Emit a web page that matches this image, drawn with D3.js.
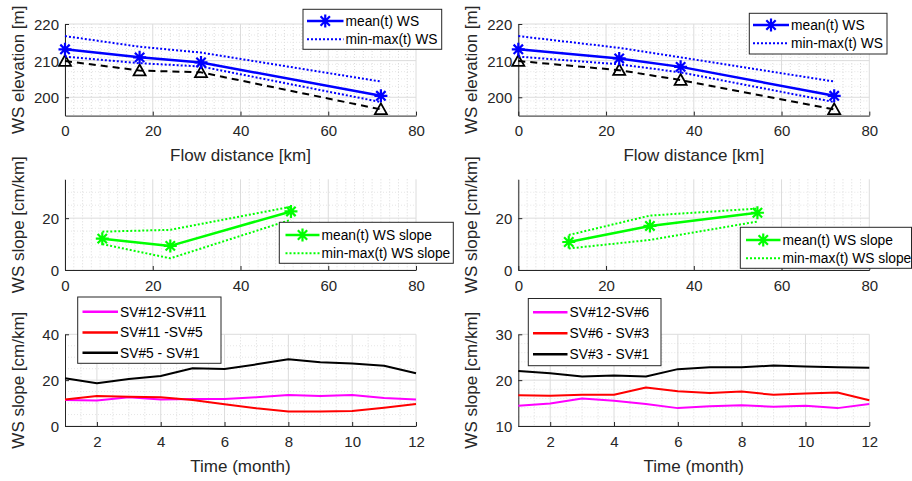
<!DOCTYPE html>
<html><head><meta charset="utf-8">
<script src="https://cdn.jsdelivr.net/npm/d3@7"></script>
<style>
body{margin:0;background:#fff;}
svg{font-family:"Liberation Sans",Arial,Helvetica,sans-serif;}
</style></head>
<body><svg id="c" width="912" height="481"></svg>
<script>
// ---- data ----
const distLeft = [0, 17, 31, 72];
const wsMeanLeft = [213.1, 210.9, 209.5, 200.4];
const wsMaxLeft = [216.7, 213.8, 212.2, 204.3];
const wsMinLeft = [211.1, 209.3, 208.4, 198.7];
const bedLeft = [209.9, 207.3, 206.8, 196.7];

const distRight = [0, 23, 37, 72];
const wsMeanRight = [213.1, 210.6, 208.3, 200.4];
const wsMaxRight = [216.7, 213.5, 210.9, 204.3];
const wsMinRight = [211.1, 209.0, 206.8, 198.7];
const bedRight = [209.9, 207.4, 204.7, 196.7];

const slopePosLeft = [8.5, 24, 51.5];
const slopeMeanLeft = [12.1, 9.3, 22.6];
const slopeMaxLeft = [14.8, 15.5, 24.4];
const slopeMinLeft = [10.0, 4.5, 19.4];

const slopePosRight = [11.5, 30, 54.5];
const slopeMeanRight = [10.8, 17.0, 22.1];
const slopeMaxRight = [13.5, 21.0, 23.7];
const slopeMinRight = [8.3, 11.6, 18.7];

const months = [1,2,3,4,5,6,7,8,9,10,11,12];
const sv12_11 = [11.3, 11.1, 12.5, 11.6, 11.8, 11.8, 12.5, 13.5, 13.1, 13.5, 12.2, 11.6];
const sv11_5  = [11.6, 13.1, 12.8, 12.5, 11.3, 9.5, 7.7, 6.3, 6.3, 6.5, 8.0, 9.6];
const sv5_1   = [20.8, 18.6, 20.5, 21.8, 25.2, 24.9, 26.9, 29.1, 27.8, 27.3, 26.3, 23.0];
const sv12_6  = [14.4, 14.9, 16.0, 15.5, 14.8, 13.9, 14.3, 14.5, 14.2, 14.4, 13.9, 14.8];
const sv6_3   = [16.7, 16.6, 16.8, 16.8, 18.4, 17.6, 17.2, 17.5, 16.8, 17.1, 17.3, 15.6];
const sv3_1   = [22.0, 21.5, 20.8, 21.0, 20.8, 22.4, 22.8, 22.8, 23.2, 23.0, 22.8, 22.7];

const legendTop = ["mean(t) WS", "min-max(t) WS"];
const legendMid = ["mean(t) WS slope", "min-max(t) WS slope"];
const legendBotLeft = ["SV#12-SV#11", "SV#11 -SV#5", "SV#5 - SV#1"];
const legendBotRight = ["SV#12-SV#6", "SV#6 - SV#3", "SV#3 - SV#1"];

const distTicks = [0, 20, 40, 60, 80];
const elevTicks = [200, 210, 220];
const slopeTicks = [0, 20];
const monthTicks = [2, 4, 6, 8, 10, 12];
const botLeftTicks = [0, 20, 40];
const botRightTicks = [10, 20, 30];

// ---- drawing ----
const svg = d3.select("#c");
const TXT = "#262626";
const BLUE = "#0000ff", GREEN = "#00ff00", MAG = "#ff00ff", RED = "#ff0000";

const cols = {L: [65, 416], R: [518.3, 869.3]};
const rows = {top: [24, 115.6], mid: [179.3, 270], bot: [334.3, 426]};

function d3range(a, b, s) { const r = []; for (let v = a; v <= b + 1e-9; v += s) r.push(+v.toFixed(6)); return r; }

function makeAxes(col, row, xdom, ydom, xticks, yticks, xminor, yminor, xlabel, ylabel) {
  const [x0, x1] = cols[col], [y0, y1] = rows[row];
  const x = d3.scaleLinear().domain(xdom).range([x0, x1]);
  const y = d3.scaleLinear().domain(ydom).range([y1, y0]);
  const g = svg.append("g");
  xminor.forEach(v => { if (!xticks.includes(v) && v > xdom[0] && v < xdom[1])
    g.append("line").attr("x1", x(v)).attr("x2", x(v)).attr("y1", y0).attr("y2", y1)
     .attr("stroke", "#d2d2d2").attr("stroke-width", 0.8).attr("stroke-dasharray", "1,2"); });
  yminor.forEach(v => { if (!yticks.includes(v) && v > ydom[0] && v < ydom[1])
    g.append("line").attr("x1", x0).attr("x2", x1).attr("y1", y(v)).attr("y2", y(v))
     .attr("stroke", "#e0e0e0").attr("stroke-width", 0.8).attr("stroke-dasharray", "1,2"); });
  xticks.forEach(v => g.append("line").attr("x1", x(v)).attr("x2", x(v)).attr("y1", y0).attr("y2", y1)
     .attr("stroke", "#dcdcdc").attr("stroke-width", 1));
  yticks.forEach(v => g.append("line").attr("x1", x0).attr("x2", x1).attr("y1", y(v)).attr("y2", y(v))
     .attr("stroke", "#dcdcdc").attr("stroke-width", 1));
  const ax = g.append("g").attr("transform", `translate(0,${y1})`)
    .call(d3.axisBottom(x).tickValues(xticks).tickSizeInner(-4).tickSizeOuter(0).tickPadding(10).tickFormat(d3.format("d")));
  const ay = g.append("g").attr("transform", `translate(${x0},0)`)
    .call(d3.axisLeft(y).tickValues(yticks).tickSizeInner(-4).tickSizeOuter(0).tickPadding(6).tickFormat(d3.format("d")));
  [ax, ay].forEach(a => {
    a.select(".domain").attr("stroke", TXT).attr("stroke-width", 1);
    a.selectAll(".tick line").attr("stroke", TXT);
    a.selectAll(".tick text").attr("fill", TXT).style("font-size", "15px");
  });
  ay.selectAll(".tick text").attr("dy", "0.36em");
  if (xlabel) g.append("text").attr("x", (x0 + x1) / 2).attr("y", y1 + 45.5).attr("text-anchor", "middle")
    .attr("fill", TXT).style("font-size", "17px").text(xlabel);
  if (ylabel) g.append("text").attr("transform", `translate(${x0 - 41},${(y0 + y1) / 2}) rotate(-90)`)
    .attr("text-anchor", "middle").attr("fill", TXT).style("font-size", "17px").text(ylabel);
  const plot = svg.append("g");
  return {x, y, g: plot};
}

function lineOf(ax, xs, ys, color, width, dash) {
  const data = xs.map((d, i) => [d, ys[i]]);
  ax.g.append("path").datum(data)
    .attr("d", d3.line().x(d => ax.x(d[0])).y(d => ax.y(d[1])))
    .attr("fill", "none").attr("stroke", color).attr("stroke-width", width)
    .attr("stroke-dasharray", dash || null).attr("stroke-linejoin", "round");
}

function starPath(cx, cy, r) {
  const d = r * 0.72;
  return `M${cx - r},${cy}L${cx + r},${cy}M${cx},${cy - r}L${cx},${cy + r}` +
         `M${cx - d},${cy - d}L${cx + d},${cy + d}M${cx - d},${cy + d}L${cx + d},${cy - d}`;
}
function stars(ax, xs, ys, color) {
  xs.forEach((v, i) => ax.g.append("path").attr("d", starPath(ax.x(v), ax.y(ys[i]), 6.5))
    .attr("stroke", color).attr("stroke-width", 2.2).attr("fill", "none"));
}
function triangles(ax, xs, ys) {
  xs.forEach((v, i) => {
    const cx = ax.x(v), cy = ax.y(ys[i]), s = 6;
    ax.g.append("path").attr("d", `M${cx},${cy - s}L${cx + s},${cy + s * 0.8}L${cx - s},${cy + s * 0.8}Z`)
      .attr("stroke", "#000").attr("stroke-width", 1.8).attr("fill", "none");
  });
}

function legend(box, items) {
  svg.append("rect").attr("x", box[0]).attr("y", box[1]).attr("width", box[2] - box[0]).attr("height", box[3] - box[1])
    .attr("fill", "#fff").attr("stroke", TXT).attr("stroke-width", 1);
  items.forEach(it => {
    svg.append("line").attr("x1", it.lx0).attr("x2", it.lx1).attr("y1", it.y).attr("y2", it.y)
      .attr("stroke", it.color).attr("stroke-width", it.width).attr("stroke-dasharray", it.dash || null);
    if (it.star) svg.append("path").attr("d", starPath((it.lx0 + it.lx1) / 2, it.y, 6.5))
      .attr("stroke", it.color).attr("stroke-width", 2.2).attr("fill", "none");
    svg.append("text").attr("x", it.lx1 + 2).attr("y", it.y).attr("dy", "0.35em")
      .attr("fill", "#000").style("font-size", "13.8px").text(it.label);
  });
}

// ---- top row ----
const xminorDist = d3range(0, 80, 2);
const tl = makeAxes("L", "top", [0, 80], [195, 220], distTicks, elevTicks, xminorDist, d3range(195, 220, 2), "Flow distance [km]", "WS elevation [m]");
lineOf(tl, distLeft, bedLeft, "#000", 2, "7,5");
triangles(tl, distLeft, bedLeft);
lineOf(tl, distLeft, wsMaxLeft, BLUE, 2, "2,2");
lineOf(tl, distLeft, wsMinLeft, BLUE, 2, "2,2");
lineOf(tl, distLeft, wsMeanLeft, BLUE, 2.5);
stars(tl, distLeft, wsMeanLeft, BLUE);

const tr = makeAxes("R", "top", [0, 80], [195, 220], distTicks, elevTicks, xminorDist, d3range(195, 220, 2), "Flow distance [km]", "WS elevation [m]");
lineOf(tr, distRight, bedRight, "#000", 2, "7,5");
triangles(tr, distRight, bedRight);
lineOf(tr, distRight, wsMaxRight, BLUE, 2, "2,2");
lineOf(tr, distRight, wsMinRight, BLUE, 2, "2,2");
lineOf(tr, distRight, wsMeanRight, BLUE, 2.5);
stars(tr, distRight, wsMeanRight, BLUE);

legend([303, 9.3, 441.7, 49.3], [
  {label: legendTop[0], color: BLUE, width: 2.5, star: true, y: 21, lx0: 307, lx1: 343.5},
  {label: legendTop[1], color: BLUE, width: 2, dash: "2,2", y: 39.3, lx0: 307, lx1: 343.5}]);
legend([749.3, 13.3, 887, 54], [
  {label: legendTop[0], color: BLUE, width: 2.5, star: true, y: 25, lx0: 753, lx1: 789},
  {label: legendTop[1], color: BLUE, width: 2, dash: "2,2", y: 43.3, lx0: 753, lx1: 789}]);

// ---- middle row ----
const ml = makeAxes("L", "mid", [0, 80], [0, 35], distTicks, slopeTicks, xminorDist, d3range(0, 35, 5), null, "WS slope [cm/km]");
lineOf(ml, slopePosLeft, slopeMaxLeft, GREEN, 2, "2,2");
lineOf(ml, slopePosLeft, slopeMinLeft, GREEN, 2, "2,2");
lineOf(ml, slopePosLeft, slopeMeanLeft, GREEN, 2.5);
stars(ml, slopePosLeft, slopeMeanLeft, GREEN);

const mr = makeAxes("R", "mid", [0, 80], [0, 35], distTicks, slopeTicks, xminorDist, d3range(0, 35, 5), null, "WS slope [cm/km]");
lineOf(mr, slopePosRight, slopeMaxRight, GREEN, 2, "2,2");
lineOf(mr, slopePosRight, slopeMinRight, GREEN, 2, "2,2");
lineOf(mr, slopePosRight, slopeMeanRight, GREEN, 2.5);
stars(mr, slopePosRight, slopeMeanRight, GREEN);

legend([279.3, 222.3, 453.3, 263.3], [
  {label: legendMid[0], color: GREEN, width: 2.5, star: true, y: 235, lx0: 285.5, lx1: 319.5},
  {label: legendMid[1], color: GREEN, width: 2, dash: "2,2", y: 253.3, lx0: 285.5, lx1: 319.5}]);
legend([740.3, 227.3, 911.5, 268.3], [
  {label: legendMid[0], color: GREEN, width: 2.5, star: true, y: 240, lx0: 746, lx1: 780.5},
  {label: legendMid[1], color: GREEN, width: 2, dash: "2,2", y: 258.3, lx0: 746, lx1: 780.5}]);

// ---- bottom row ----
const monthMinor = d3range(1, 12, 0.5);
const bl = makeAxes("L", "bot", [1, 12], [0, 40], monthTicks, botLeftTicks, monthMinor, d3range(0, 40, 5), "Time (month)", "WS slope [cm/km]");
lineOf(bl, months, sv5_1, "#000", 2);
lineOf(bl, months, sv12_11, MAG, 2);
lineOf(bl, months, sv11_5, RED, 2);

const br = makeAxes("R", "bot", [1, 12], [10, 30], monthTicks, botRightTicks, monthMinor, d3range(10, 30, 2), "Time (month)", "WS slope [cm/km]");
lineOf(br, months, sv3_1, "#000", 2);
lineOf(br, months, sv6_3, RED, 2);
lineOf(br, months, sv12_6, MAG, 2);

legend([77.7, 297, 221, 363.3], [
  {label: legendBotLeft[0], color: MAG, width: 2.5, y: 311.7, lx0: 82.5, lx1: 118},
  {label: legendBotLeft[1], color: RED, width: 2.5, y: 332.5, lx0: 82.5, lx1: 118},
  {label: legendBotLeft[2], color: "#000", width: 2.5, y: 352.7, lx0: 82.5, lx1: 118}]);
legend([528.3, 298.5, 661, 365.7], [
  {label: legendBotRight[0], color: MAG, width: 2.5, y: 312.3, lx0: 533, lx1: 567.5},
  {label: legendBotRight[1], color: RED, width: 2.5, y: 333.3, lx0: 533, lx1: 567.5},
  {label: legendBotRight[2], color: "#000", width: 2.5, y: 354.3, lx0: 533, lx1: 567.5}]);
</script></body></html>
